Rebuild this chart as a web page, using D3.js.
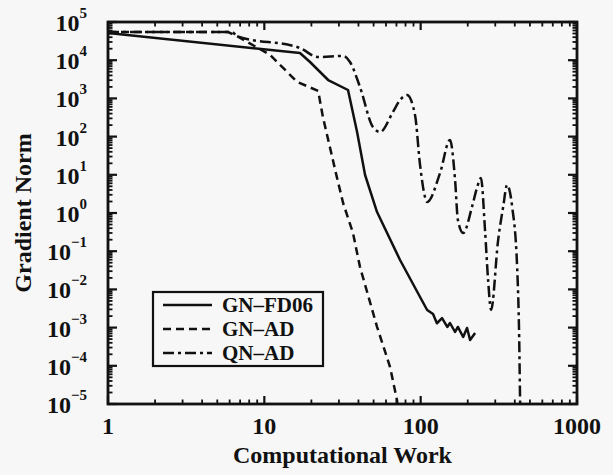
<!DOCTYPE html>
<html><head><meta charset="utf-8">
<script src="https://cdn.jsdelivr.net/npm/d3@7/dist/d3.min.js"></script>
<style>
html,body{margin:0;padding:0;background:#f7f7f7;}
svg{display:block;}
text{font-family:"Liberation Serif","Times New Roman",serif;font-weight:bold;fill:#111;}
</style></head>
<body>
<svg id="c" width="613" height="475"></svg>
<script>
// ---- data ----
const xTickValues = [1, 10, 100, 1000];
const xTickLabels = ["1", "10", "100", "1000"];
const yTickExponents = [5, 4, 3, 2, 1, 0, -1, -2, -3, -4, -5];

const seriesNames = ["GN\u2013FD06", "GN\u2013AD", "QN\u2013AD"];

const gnFdWork = [1, 16.9, 19.6, 25.6, 34.3, 39.2, 44.1, 52.6, 73.8, 99.1, 110, 120, 127, 137, 148, 154, 166, 173, 187, 198, 207, 223];
const gnFdNorm = [51500, 15400, 8970, 3030, 1660, 132, 9.88, 1.06, 0.0589, 0.00632, 0.00289, 0.00227, 0.0013, 0.00178, 0.00104, 0.00132, 0.000767, 0.00104, 0.000568, 0.000977, 0.000473, 0.000723];

const gnAdWork = [1, 5.86, 6.68, 10.9, 16.2, 22.1, 23.7, 29.1, 31.9, 36.9, 40.9, 52.6, 63.7, 70.6, 72.0];
const gnAdNorm = [54700, 54700, 43000, 13700, 2710, 1570, 324, 8.7, 1.83, 0.30, 0.0389, 0.00105, 0.000093, 0.0000125, 0.000005];

const qnAdWork = [1, 6.21, 6.68, 16.9, 22.1, 31.9, 35.3, 40.9, 49.5, 55.0, 66.5, 73.8, 81.8, 92.0, 99.1, 107, 110, 133, 154, 166, 173, 187, 213, 230, 243, 258, 270, 282, 313, 337, 357, 385, 414, 427, 433, 436];
const qnAdNorm = [54700, 54700, 43000, 20800, 12100, 12900, 8970, 1990, 178, 132, 441, 908, 1230, 367, 18.1, 2.47, 1.94, 11.1, 81.5, 7.31, 0.656, 0.299, 1.44, 4.80, 8.24, 0.359, 0.0176, 0.00289, 0.196, 1.44, 5.41, 1.44, 0.0385, 0.000473, 0.00001, 0.000004];

// ---- layout ----
const svg = d3.select("#c");
const L = 108, R = 577, T = 22, B = 404;
const x = d3.scaleLog().domain([1, 1000]).range([L, R]);
const y = d3.scaleLog().domain([1e-5, 1e5]).range([B, T]);

svg.append("rect").attr("width", 613).attr("height", 475).attr("fill", "#f7f7f7");

svg.append("defs").append("clipPath").attr("id", "clip")
  .append("rect").attr("x", L).attr("y", T).attr("width", R - L).attr("height", B - T);

// ticks (inward, all four sides)
const xMajor = xTickValues;
const xMinor = [];
for (let d = 1; d < 1000; d *= 10) for (let k = 2; k <= 9; k++) xMinor.push(d * k);
const yMajor = yTickExponents.map(e => Math.pow(10, e));
const yMinor = [];
for (let e = -5; e < 5; e++) for (let k = 2; k <= 9; k++) yMinor.push(k * Math.pow(10, e));

const tickG = svg.append("g").attr("stroke", "#111").attr("fill", "none");
function xt(vals, len, w) {
  vals.forEach(v => {
    const px = x(v);
    tickG.append("line").attr("x1", px).attr("x2", px).attr("y1", B).attr("y2", B - len).attr("stroke-width", w);
    tickG.append("line").attr("x1", px).attr("x2", px).attr("y1", T).attr("y2", T + len).attr("stroke-width", w);
  });
}
function yt(vals, len, w) {
  vals.forEach(v => {
    const py = y(v);
    tickG.append("line").attr("y1", py).attr("y2", py).attr("x1", L).attr("x2", L + len).attr("stroke-width", w);
    tickG.append("line").attr("y1", py).attr("y2", py).attr("x1", R).attr("x2", R - len).attr("stroke-width", w);
  });
}
xt(xMinor, 4.5, 1.8); xt(xMajor, 8, 2.2);
yt(yMinor, 4.5, 1.8); yt(yMajor, 9, 2.2);

// frame
svg.append("rect").attr("x", L).attr("y", T).attr("width", R - L).attr("height", B - T)
  .attr("fill", "none").attr("stroke", "#111").attr("stroke-width", 2.8);

// tick labels
svg.append("g").selectAll("text").data(xTickValues).join("text")
  .attr("x", d => x(d)).attr("y", 434).attr("text-anchor", "middle")
  .attr("font-size", 24).text((d, i) => xTickLabels[i]);

const yl = svg.append("g").selectAll("text").data(yTickExponents).join("text")
  .attr("x", 87).attr("y", d => y(Math.pow(10, d)) + 9).attr("text-anchor", "end")
  .attr("font-size", 24);
yl.append("tspan").text("10");
yl.append("tspan").attr("font-size", 15).attr("dy", -13).text(d => d < 0 ? "\u2212" + (-d) : String(d));

// axis titles
svg.append("text").attr("x", (L + R) / 2).attr("y", 463).attr("text-anchor", "middle")
  .attr("font-size", 24).text("Computational Work");
svg.append("text").attr("transform", `translate(31,${(T + B) / 2}) rotate(-90)`)
  .attr("text-anchor", "middle").attr("font-size", 24).text("Gradient Norm");

// lines
const lineLin = d3.line().x(d => x(d[0])).y(d => y(d[1]));
const lineSmooth = d3.line().x(d => x(d[0])).y(d => y(d[1])).curve(d3.curveMonotoneX);
const zip = (a, b) => a.map((v, i) => [v, b[i]]);
const styles = [
  { dash: null },
  { dash: "8,5" },
  { dash: "11,4,3,4" }
];
const plot = svg.append("g").attr("clip-path", "url(#clip)");
plot.append("path").datum(zip(gnFdWork, gnFdNorm)).attr("d", lineLin)
  .attr("fill", "none").attr("stroke", "#111").attr("stroke-width", 2.5).attr("stroke-linejoin", "round");
plot.append("path").datum(zip(gnAdWork, gnAdNorm)).attr("d", lineLin)
  .attr("fill", "none").attr("stroke", "#111").attr("stroke-width", 2.5).attr("stroke-dasharray", styles[1].dash);
plot.append("path").datum(zip(qnAdWork, qnAdNorm)).attr("d", lineSmooth)
  .attr("fill", "none").attr("stroke", "#111").attr("stroke-width", 2.5).attr("stroke-dasharray", styles[2].dash);

// legend
const lg = svg.append("g");
lg.append("rect").attr("x", 153).attr("y", 292).attr("width", 170).attr("height", 74)
  .attr("fill", "#f7f7f7").attr("stroke", "#111").attr("stroke-width", 2.2);
seriesNames.forEach((name, i) => {
  const yy = 305 + i * 24;
  lg.append("line").attr("x1", 163).attr("x2", 212).attr("y1", yy).attr("y2", yy)
    .attr("stroke", "#111").attr("stroke-width", 2.3).attr("stroke-dasharray", styles[i].dash);
  lg.append("text").attr("x", 222).attr("y", yy + 7).attr("font-size", 21).text(name);
});
</script>
</body></html>
